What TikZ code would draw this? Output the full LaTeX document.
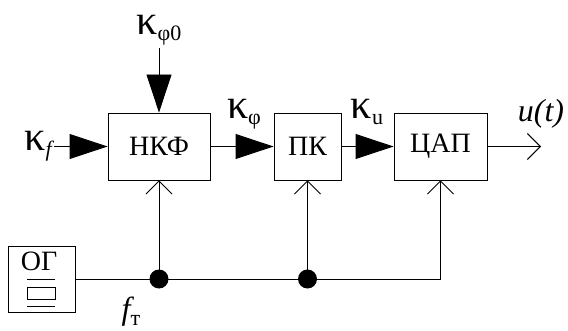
\documentclass[tikz,border=0pt]{standalone}
\usepackage{fontspec}
\setmainfont{Liberation Serif}
\usetikzlibrary{arrows.meta,positioning}

\newcommand{\kap}{{\fontsize{42}{42}\selectfont κ}}
\newcommand{\lowidx}[1]{\raisebox{-6pt}{\fontsize{22}{22}\selectfont #1}}

\begin{document}
\begin{tikzpicture}[x=1pt,y=1pt,
    block/.style={draw,line width=0.9pt,minimum height=67pt,inner sep=0pt,
      font=\fontsize{28}{32}\selectfont},
    sig/.style={line width=0.9pt,-{Triangle[length=38pt,width=25pt]}},
    clk/.style={line width=0.9pt,-{Straight Barb[length=13pt,width=26pt]}},
    lbl/.style={inner sep=0pt,font=\fontsize{28}{32}\selectfont}]
  \useasboundingbox (0,0) rectangle (568,330);

  % Blocks
  \node[block,minimum width=102pt] (nkf) at (159,183.5) {НКФ};
  \node[block,minimum width=67pt] (pk) at (307.5,183.5) {ПК};
  \node[block,minimum width=93pt] (dac) at (440.5,183.5) {ЦАП};
  \node[block,minimum width=67pt,minimum height=66pt] (og) at (41.5,51) {};

  % Generator symbol
  \node[lbl] (ogtext) at (39,69) {ОГ};
  \draw[line width=0.7pt] (27,51) -- (55,51);
  \draw[line width=0.7pt] (27,31) rectangle (55,43);
  \draw[line width=0.7pt] (27,24) -- (55,24);

  % Free ends
  \coordinate (kf) at (54,183.5);
  \coordinate (kf0) at (nkf.north |- 0,282);
  \coordinate (out) at (541,183.5);
  \coordinate (j1) at (nkf.south |- og.east);
  \coordinate (j2) at (pk.south |- og.east);

  % Signal path
  \draw[sig] (kf) -- (nkf.west);
  \draw[sig] (kf0) -- (nkf.north);
  \draw[sig] (nkf.east) -- (pk.west);
  \draw[sig] (pk.east) -- (dac.west);
  \draw[clk] (dac.east) -- (out);

  % Clock bus
  \draw[clk] (og.east) -| (dac.south);
  \draw[clk] (j1) -- (nkf.south);
  \draw[clk] (j2) -- (pk.south);
  \fill (j1) circle (9.5pt);
  \fill (j2) circle (9.5pt);

  % Labels
  \node[lbl,left=2pt of kf] (lkf) {\kap\lowidx{\itshape f}};
  \node[lbl,above=3pt of kf0] (lkf0) {\kap\lowidx{φ0}};
  \node[lbl] (lkphi) at (244,216) {\kap\lowidx{φ}};
  \node[lbl] (lku) at (367,218) {\kap\lowidx{u}};
  \node[lbl] (lout) at (541,216) {\fontsize{32}{32}\selectfont\itshape u(t)};
  \node[lbl] (lft) at (131,18) {\fontsize{32}{32}\selectfont\itshape f\lowidx{\upshape т}};
\end{tikzpicture}
\end{document}
